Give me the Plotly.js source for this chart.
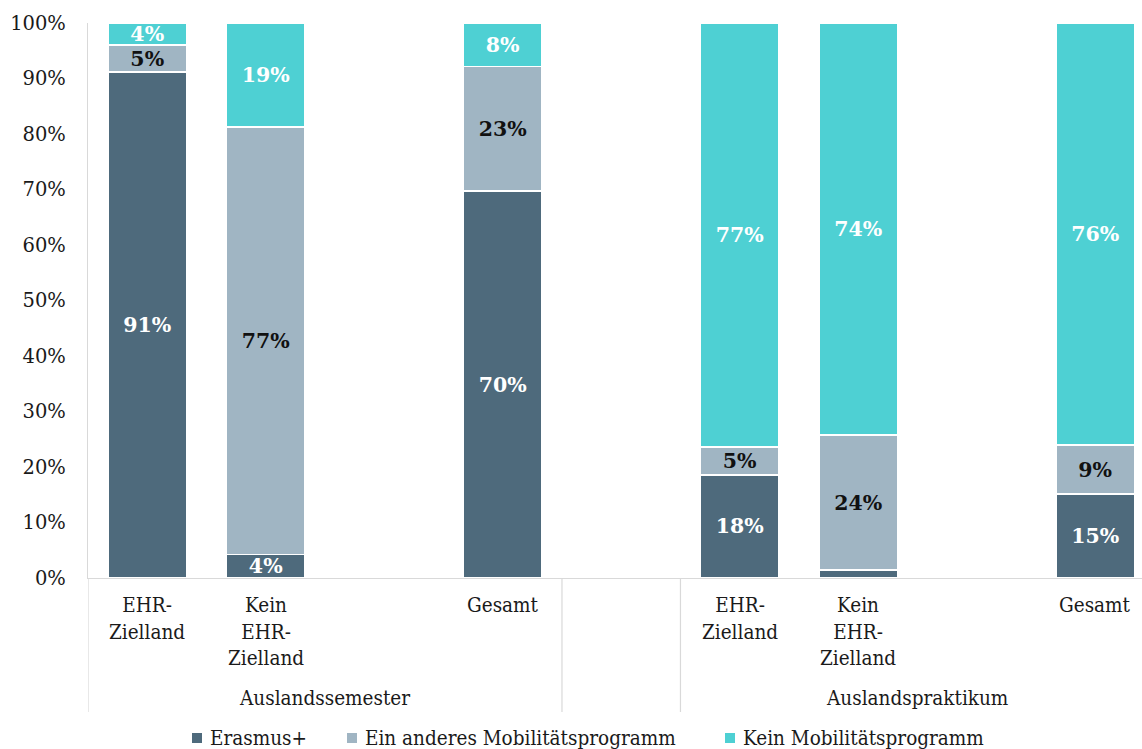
<!DOCTYPE html>
<html>
<head>
<meta charset="utf-8">
<script src="https://cdn.plot.ly/plotly-3.0.1.min.js"></script>
<style>html,body{margin:0;padding:0;background:#fff;}#chart{width:1142px;height:749px;}</style>
</head>
<body>
<div id="chart"></div>
<script>
// Category slots (empty strings are the gaps in the original chart)
const categories = ["EHR-<br>Zielland", "Kein<br>EHR-<br>Zielland", "", "Gesamt", "", "EHR-<br>Zielland", "Kein<br>EHR-<br>Zielland", "", "Gesamt"];
const groups = ["Auslandssemester", "Auslandspraktikum"];
const groupStart = [0, 5];
const groupEnd = [3, 8];
const seriesNames = ["Erasmus+", "Ein anderes Mobilitätsprogramm", "Kein Mobilitätsprogramm"];
// Values in percent
const erasmus = [91.2, 4.2, null, 69.7, null, 18.6, 1.4, null, 15.1];
const anderes = [4.8, 77.1, null, 22.5, null, 5.0, 24.4, null, 8.9];
const kein    = [4.0, 18.7, null, 7.8, null, 76.4, 74.2, null, 76.0];
// Data labels as printed
const erasmusLabels = ["91%", "4%", "", "70%", "", "18%", "", "", "15%"];
const anderesLabels = ["5%", "77%", "", "23%", "", "5%", "24%", "", "9%"];
const keinLabels    = ["4%", "19%", "", "8%", "", "77%", "74%", "", "76%"];
const yTicks = [0, 10, 20, 30, 40, 50, 60, 70, 80, 90, 100];

const colors = ["#4E6A7C", "#A0B5C3", "#4ED0D3"];
const labelColors = ["#ffffff", "#111111", "#ffffff"];
const FONT = "DejaVu Serif, serif";
const FONT_C = "DejaVu Serif Condensed, DejaVu Serif, serif";
const TEXT = "#1a1a1a";
const xs = categories.map((_, i) => i);

const W = 1142, H = 749, ML = 88, MR = 0, MT = 23, MB = 171;
const PW = W - ML - MR, PH = H - MT - MB;
const px2x = p => (p - ML) / PW;       // pixel -> paper x
const py2y = p => (H - MB - p) / PH;   // pixel -> paper y

const series = [erasmus, anderes, kein];
const labels = [erasmusLabels, anderesLabels, keinLabels];
const traces = series.map((vals, k) => ({
  type: "bar",
  name: seriesNames[k],
  x: xs,
  y: vals,
  text: labels[k],
  textposition: "inside",
  insidetextanchor: "middle",
  constraintext: "none",
  textfont: {family: FONT, size: 20.5, color: labelColors[k], weight: "bold"},
  marker: {color: colors[k], line: {color: "#ffffff", width: 1.5}},
  width: 0.66,
  hoverinfo: "skip",
  showlegend: false
}));

const shapes = [];
const divX = [-0.5, 3.5, 4.5];
divX.forEach(x => shapes.push({type: "line", xref: "x", yref: "paper", x0: x, x1: x, y0: 0, y1: py2y(712), line: {color: "#D9D9D9", width: 1.2}}));

const annotations = [];
categories.forEach((c, i) => {
  if (!c) return;
  annotations.push({xref: "x", yref: "paper", x: i, y: py2y(591), yanchor: "top", xanchor: "center", text: c, showarrow: false, align: "center", font: {family: FONT_C, size: 20.5, color: TEXT}});
});
groups.forEach((g, j) => {
  annotations.push({xref: "x", yref: "paper", x: (groupStart[j] + groupEnd[j]) / 2, y: py2y(698), yanchor: "middle", xanchor: "center", text: g, showarrow: false, font: {family: FONT_C, size: 20.5, color: TEXT}});
});

// Legend (drawn manually to match the original spacing)
const legendSymbolLeft = [192, 347, 725];
seriesNames.forEach((n, k) => {
  const x0 = legendSymbolLeft[k];
  shapes.push({type: "rect", xref: "paper", yref: "paper", x0: px2x(x0), x1: px2x(x0 + 10), y0: py2y(733), y1: py2y(743), fillcolor: colors[k], line: {width: 0}});
  annotations.push({xref: "paper", yref: "paper", x: px2x(x0 + 16), y: py2y(738), xanchor: "left", yanchor: "middle", text: n, showarrow: false, font: {family: FONT_C, size: 20.5, color: TEXT}});
});

const layout = {
  width: W, height: H,
  margin: {l: ML, r: MR, t: MT, b: MB, autoexpand: false},
  paper_bgcolor: "#ffffff", plot_bgcolor: "#ffffff",
  barmode: "stack",
  bargap: 0,
  showlegend: false,
  xaxis: {range: [-0.5, 8.395], showticklabels: false, showgrid: false, zeroline: false, showline: true, linecolor: "#D9D9D9", linewidth: 1.2, ticks: "", fixedrange: true},
  yaxis: {range: [0, 100], tickvals: yTicks, ticktext: yTicks.map(v => v + "%"), showgrid: false, zeroline: false, showline: true, linecolor: "#D9D9D9", linewidth: 1.2, ticks: "", ticklabelstandoff: 17, tickfont: {family: FONT, size: 19.5, color: TEXT}},
  shapes: shapes,
  annotations: annotations,
  font: {family: FONT}
};

Plotly.newPlot("chart", traces, layout, {displayModeBar: false, staticPlot: true});
</script>
</body>
</html>
